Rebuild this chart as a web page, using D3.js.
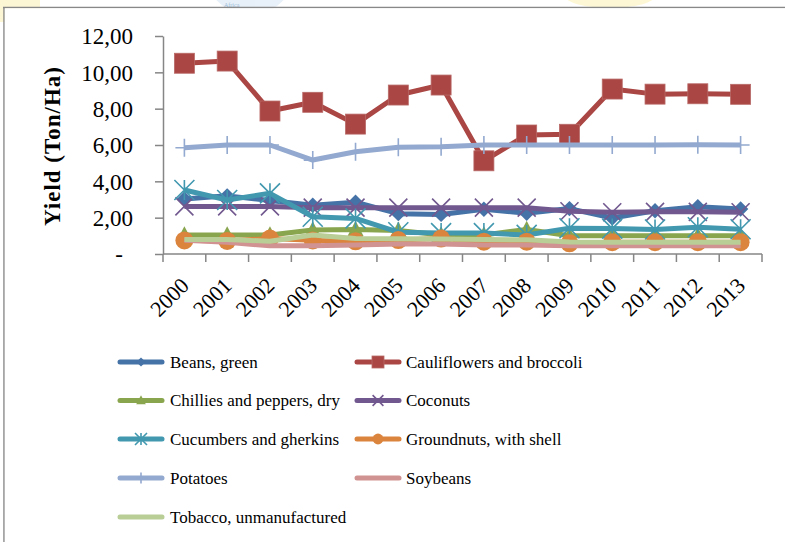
<!DOCTYPE html>
<html>
<head>
<meta charset="utf-8">
<script src="https://cdnjs.cloudflare.com/ajax/libs/d3/7.8.5/d3.min.js"></script>
<style>
  body{ margin:0; background:#fff; }
  svg text{ font-family:"Liberation Serif","Times New Roman",serif; fill:#000; }
</style>
</head>
<body>
<svg id="chart" width="785" height="542"></svg>
<script>
// 연도별 수확량 (Ton/Ha)
var years = ["2000","2001","2002","2003","2004","2005","2006","2007","2008","2009","2010","2011","2012","2013"];
var yTicks = [0,2,4,6,8,10,12];

var beans       = [3.03,3.20,2.95,2.68,2.85,2.22,2.18,2.46,2.24,2.50,1.98,2.38,2.60,2.48];
var cauliflower = [10.50,10.62,7.87,8.35,7.15,8.75,9.30,5.13,6.55,6.59,9.08,8.80,8.82,8.79];
var chillies    = [1.05,1.05,1.05,1.32,1.35,1.30,1.05,1.05,1.35,1.00,1.00,1.00,1.00,1.00];
var coconuts    = [2.62,2.62,2.62,2.55,2.55,2.55,2.55,2.55,2.55,2.35,2.30,2.32,2.32,2.30];
var cucumbers   = [3.52,2.97,3.34,2.05,1.96,1.20,1.15,1.15,1.05,1.42,1.40,1.35,1.47,1.36];
var groundnuts  = [0.75,0.72,0.85,0.75,0.70,0.77,0.85,0.68,0.68,0.59,0.65,0.65,0.65,0.65];
var potatoes    = [5.85,6.00,6.00,5.17,5.63,5.87,5.90,6.00,6.00,6.00,6.00,6.00,6.02,6.00];
var soybeans    = [0.75,0.65,0.45,0.45,0.50,0.55,0.55,0.50,0.50,0.45,0.45,0.45,0.45,0.45];
var tobacco     = [0.80,0.80,0.70,1.05,0.85,0.84,0.82,0.80,0.78,0.66,0.65,0.65,0.65,0.65];

var seriesList = [
	{ name:"Beans, green",               values:beans,       color:"#4572A7", marker:"diamond" }
	,{ name:"Cauliflowers and broccoli", values:cauliflower, color:"#AA4643", marker:"square" }
	,{ name:"Chillies and peppers, dry", values:chillies,    color:"#89A54E", marker:"triangle" }
	,{ name:"Coconuts",                  values:coconuts,    color:"#71588F", marker:"x" }
	,{ name:"Cucumbers and gherkins",    values:cucumbers,   color:"#4198AF", marker:"star" }
	,{ name:"Groundnuts, with shell",    values:groundnuts,  color:"#DB843D", marker:"circle" }
	,{ name:"Potatoes",                  values:potatoes,    color:"#93A9CF", marker:"plus" }
	,{ name:"Soybeans",                  values:soybeans,    color:"#D19392", marker:null }
	,{ name:"Tobacco, unmanufactured",   values:tobacco,     color:"#B9CD96", marker:null }
];

var svg = d3.select("#chart");

// 배경 워터마크 (흐릿하게)
var wm = svg.append("g").attr("opacity",0.18);
wm.append("rect").attr("x",0).attr("y",0).attr("width",40).attr("height",22).attr("fill","#f5d31a");
wm.append("circle").attr("cx",250).attr("cy",-30).attr("r",45).attr("fill","#7fb2e0");
wm.append("ellipse").attr("cx",610).attr("cy",-4).attr("rx",45).attr("ry",12).attr("fill","#f5d31a");
svg.append("text").attr("x",224).attr("y",6.5).attr("font-size",6).style("fill","#9bbbd8").text("Africa");

// 외곽 프레임
svg.append("line").attr("x1",3).attr("x2",785).attr("y1",7.5).attr("y2",7.5)
	.attr("stroke","#888").attr("stroke-width",1.5);
svg.append("line").attr("x1",4).attr("x2",4).attr("y1",7).attr("y2",542)
	.attr("stroke","#888").attr("stroke-width",1.5);
svg.append("rect").attr("x",4.8).attr("y",8.3).attr("width",781).attr("height",534).attr("fill","#fff");

var x = d3.scaleBand().domain(years).range([163, 762]);
var y = d3.scaleLinear().domain([0, 12]).range([254, 36]);
function cx(i){ return x(years[i]) + x.bandwidth()/2; }

// y축
var yAxis = d3.axisLeft(y)
	.tickValues(yTicks)
	.tickSize(8)
	.tickSizeOuter(0)
	.tickPadding(22)
	.tickFormat(function(v){ return v === 0 ? "-" : d3.format(".2f")(v).replace(".", ","); });

var gY = svg.append("g").attr("transform","translate(163,0)").call(yAxis);
gY.selectAll("path, line").attr("stroke","#868686").attr("stroke-width",1.5);
gY.selectAll("text").attr("font-size",23).attr("font-family","Liberation Serif").attr("dy","0.34em");
gY.selectAll(".tick").filter(function(d){ return d === 0; }).select("text")
	.attr("x",-44).attr("text-anchor","middle");

// x축
svg.append("line").attr("x1",163).attr("x2",762).attr("y1",254).attr("y2",254)
	.attr("stroke","#868686").attr("stroke-width",1.5);
var tickPos = years.map(function(d){ return x(d); }).concat([x.range()[1]]);
svg.append("g").selectAll("line").data(tickPos).join("line")
	.attr("x1",function(d){ return d; }).attr("x2",function(d){ return d; })
	.attr("y1",254).attr("y2",262)
	.attr("stroke","#868686").attr("stroke-width",1.5);
svg.append("g").selectAll("text").data(years).join("text")
	.attr("transform",function(d,i){ return "translate(" + (cx(i)-5) + ",276) rotate(-45)"; })
	.attr("text-anchor","end")
	.attr("dy","0.7em")
	.attr("font-size",22)
	.text(function(d){ return d; });

// y축 제목
svg.append("text")
	.attr("transform","translate(60,146) rotate(-90)")
	.attr("text-anchor","middle")
	.attr("font-size",23)
	.attr("font-weight","bold")
	.attr("letter-spacing",1)
	.text("Yield (Ton/Ha)");

/* 마커 그리기 */
function drawMarker(g, type, color, px, py, s){
	var h = s/2;
	if(type === "diamond"){
		g.append("path").attr("d","M"+px+","+(py-h*1.1)+"L"+(px+h*1.1)+","+py+"L"+px+","+(py+h*1.1)+"L"+(px-h*1.1)+","+py+"Z")
			.attr("fill",color);
	}else if(type === "square"){
		g.append("rect").attr("x",px-h).attr("y",py-h).attr("width",s).attr("height",s)
			.attr("fill",color).attr("stroke","#b86a68").attr("stroke-width",0.8);
	}else if(type === "triangle"){
		g.append("path").attr("d","M"+px+","+(py-h*1.1)+"L"+(px+h)+","+(py+h*0.8)+"L"+(px-h)+","+(py+h*0.8)+"Z")
			.attr("fill",color);
	}else if(type === "circle"){
		g.append("circle").attr("cx",px).attr("cy",py).attr("r",h).attr("fill",color);
	}else if(type === "x"){
		g.append("path").attr("d","M"+(px-h)+","+(py-h)+"L"+(px+h)+","+(py+h)+"M"+(px+h)+","+(py-h)+"L"+(px-h)+","+(py+h))
			.attr("stroke",color).attr("stroke-width",1.6).attr("fill","none");
	}else if(type === "star"){
		g.append("path").attr("d","M"+(px-h)+","+(py-h)+"L"+(px+h)+","+(py+h)+"M"+(px+h)+","+(py-h)+"L"+(px-h)+","+(py+h)+"M"+px+","+(py-h)+"L"+px+","+(py+h))
			.attr("stroke",color).attr("stroke-width",1.6).attr("fill","none");
	}else if(type === "plus"){
		g.append("path").attr("d","M"+px+","+(py-h)+"L"+px+","+(py+h)+"M"+(px-h)+","+py+"L"+(px+h)+","+py)
			.attr("stroke",color).attr("stroke-width",1.6).attr("fill","none");
	}
}

var markerSize = { diamond:14, square:20, triangle:16, circle:18, x:18, star:20, plus:18 };

var line = d3.line()
	.x(function(d,i){ return cx(i); })
	.y(function(d){ return y(d); });

var plot = svg.append("g");
seriesList.forEach(function(s){
	var g = plot.append("g");
	g.append("path").datum(s.values)
		.attr("d", line)
		.attr("fill","none")
		.attr("stroke", s.color)
		.attr("stroke-width",5)
		.attr("stroke-linejoin","round");
	if(s.marker){
		s.values.forEach(function(v,i){
			drawMarker(g, s.marker, s.color, cx(i), y(v), markerSize[s.marker]);
		});
	}
});

// 범례
var legendCols = [120, 357], legendTextX = [170, 406], legendRowY = [362, 400.5, 439, 478, 517];
var legend = svg.append("g");
seriesList.forEach(function(s, i){
	var col = i % 2, row = Math.floor(i/2);
	var x0 = legendCols[col], yy = legendRowY[row];
	var g = legend.append("g");
	g.append("line").attr("x1",x0).attr("x2",x0+42).attr("y1",yy).attr("y2",yy)
		.attr("stroke",s.color).attr("stroke-width",5).attr("stroke-linecap","round");
	if(s.marker) drawMarker(g, s.marker, s.color, x0+21, yy, markerSize[s.marker]*0.6);
	g.append("text").attr("x",legendTextX[col]).attr("y",yy).attr("dy","0.35em")
		.attr("font-size",17).text(s.name);
});
</script>
</body>
</html>
